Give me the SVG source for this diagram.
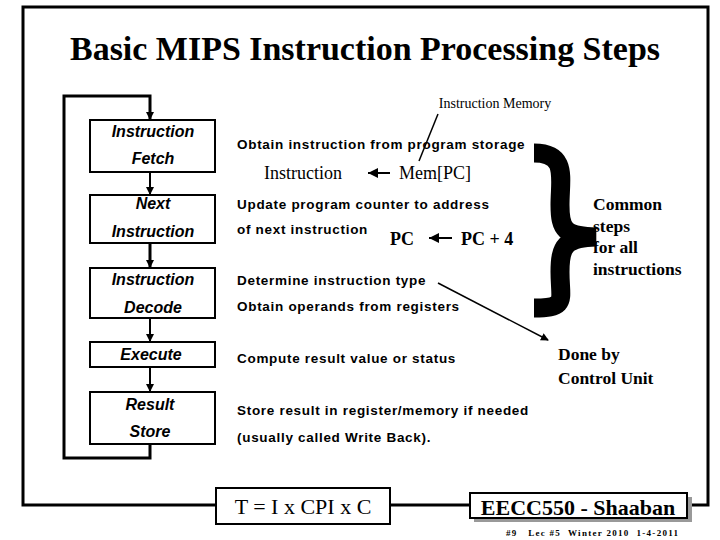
<svg xmlns="http://www.w3.org/2000/svg" width="720" height="540" viewBox="0 0 720 540">
<defs>
<style>
.box{fill:#fff;stroke:#000;stroke-width:2}
.bl{font-family:"Liberation Sans",Arial,sans-serif;font-weight:bold;font-style:italic;font-size:16px;text-anchor:middle}
.d{font-family:"Liberation Sans",Arial,sans-serif;font-weight:bold;font-size:13.5px;letter-spacing:0.7px}
.s{font-family:"Liberation Serif","Times New Roman",serif;font-weight:bold}
.ln{fill:none;stroke:#000;stroke-width:3}
</style>
<marker id="ah" markerWidth="8" markerHeight="8" refX="7" refY="4" orient="auto" markerUnits="userSpaceOnUse"><path d="M0,0 L8,4 L0,8 z"/></marker>
<marker id="la" markerWidth="10" markerHeight="10" refX="0" refY="5" orient="auto" markerUnits="userSpaceOnUse"><path d="M10,0 L0,5 L10,10 z"/></marker>
</defs>
<rect width="720" height="540" fill="#fff"/>
<path class="ln" d="M215,505 H23 V7 H708 V505 H690"/>
<path class="ln" d="M390,505 H470"/>
<text x="365" y="60" class="s" font-size="33" text-anchor="middle" textLength="590" lengthAdjust="spacingAndGlyphs">Basic MIPS Instruction Processing Steps</text>
<text x="495" y="108" class="s" font-size="14" text-anchor="middle" style="font-weight:normal">Instruction Memory</text>
<g id="connectors" fill="none" stroke="#000" stroke-width="2">
<path d="M150,444 V458 H64 V96 H150 V119" stroke-width="3" marker-end="url(#ah)"/>
<path d="M150,172 V194" marker-end="url(#ah)"/>
<path d="M150,243 V267" stroke-width="3" marker-end="url(#ah)"/>
<path d="M150,318 V341" marker-end="url(#ah)"/>
<path d="M150,367 V391" marker-end="url(#ah)"/>
<path d="M438,114 L419,161" stroke-width="1.5"/>
<path d="M438,283 L548,340" stroke-width="1.5" marker-end="url(#ah)"/>
<path d="M368,173 H390" stroke-width="2" marker-start="url(#la)"/>
<path d="M429,238 H452" stroke-width="2" marker-start="url(#la)"/>
</g>
<g id="fetch"><rect class="box" x="90" y="120" width="125" height="52"/><text class="bl" x="153" y="137">Instruction</text><text class="bl" x="153" y="164">Fetch</text></g>
<g id="next"><rect class="box" x="90" y="195" width="125" height="48"/><text class="bl" x="153" y="209">Next</text><text class="bl" x="153" y="237">Instruction</text></g>
<g id="decode"><rect class="box" x="90" y="268" width="125" height="50"/><text class="bl" x="153" y="285">Instruction</text><text class="bl" x="153" y="313">Decode</text></g>
<g id="execute"><rect class="box" x="90" y="342" width="125" height="25"/><text class="bl" x="151" y="360">Execute</text></g>
<g id="result"><rect class="box" x="90" y="392" width="125" height="52"/><text class="bl" x="150" y="410">Result</text><text class="bl" x="150" y="437">Store</text></g>
<g id="descriptions">
<text class="d" x="237" y="149">Obtain instruction from program storage</text>
<text class="s" x="264" y="179" font-size="18" style="font-weight:normal">Instruction</text>
<text class="s" x="399" y="179" font-size="18" style="font-weight:normal">Mem[PC]</text>
<text class="d" x="237" y="209">Update program counter to address</text>
<text class="d" x="237" y="234">of next instruction</text>
<text class="s" x="390" y="245" font-size="18">PC</text>
<text class="s" x="461" y="245" font-size="18">PC + 4</text>
<text class="d" x="237" y="285">Determine instruction type</text>
<text class="d" x="237" y="311">Obtain operands from registers</text>
<text class="d" x="237" y="363">Compute result value or status</text>
<text class="d" x="237" y="415">Store result in register/memory if needed</text>
<text class="d" x="237" y="442">(usually called Write Back).</text>
</g>
<g id="brace"><path d="M534,153 C568,153 560,178 560,205 C560,230 565,236 596,237 C565,238 560,246 560,272 C560,300 568,308 534,308" fill="none" stroke="#000" stroke-width="19"/></g>
<g id="common" class="s" font-size="17.5"><text x="593" y="210">Common</text><text x="593" y="232">steps</text><text x="593" y="253">for all</text><text x="593" y="275">instructions</text></g>
<g id="control" class="s" font-size="17.5"><text x="558" y="360">Done by</text><text x="558" y="384">Control Unit</text></g>
<g id="cpi"><rect class="box" x="216" y="488" width="174" height="36"/><text class="s" x="303" y="514" font-size="22" text-anchor="middle" style="font-weight:normal">T = I x CPI x C</text></g>
<g id="badge"><rect x="474" y="497" width="218" height="25" fill="#999"/><rect class="box" x="470" y="493" width="217" height="25"/><text class="s" x="578" y="515" font-size="22" text-anchor="middle">EECC550 - Shaaban</text><text class="s" x="592" y="536" font-size="9" text-anchor="middle" textLength="172" lengthAdjust="spacing" xml:space="preserve">#9   Lec #5  Winter 2010  1-4-2011</text></g>
</svg>
